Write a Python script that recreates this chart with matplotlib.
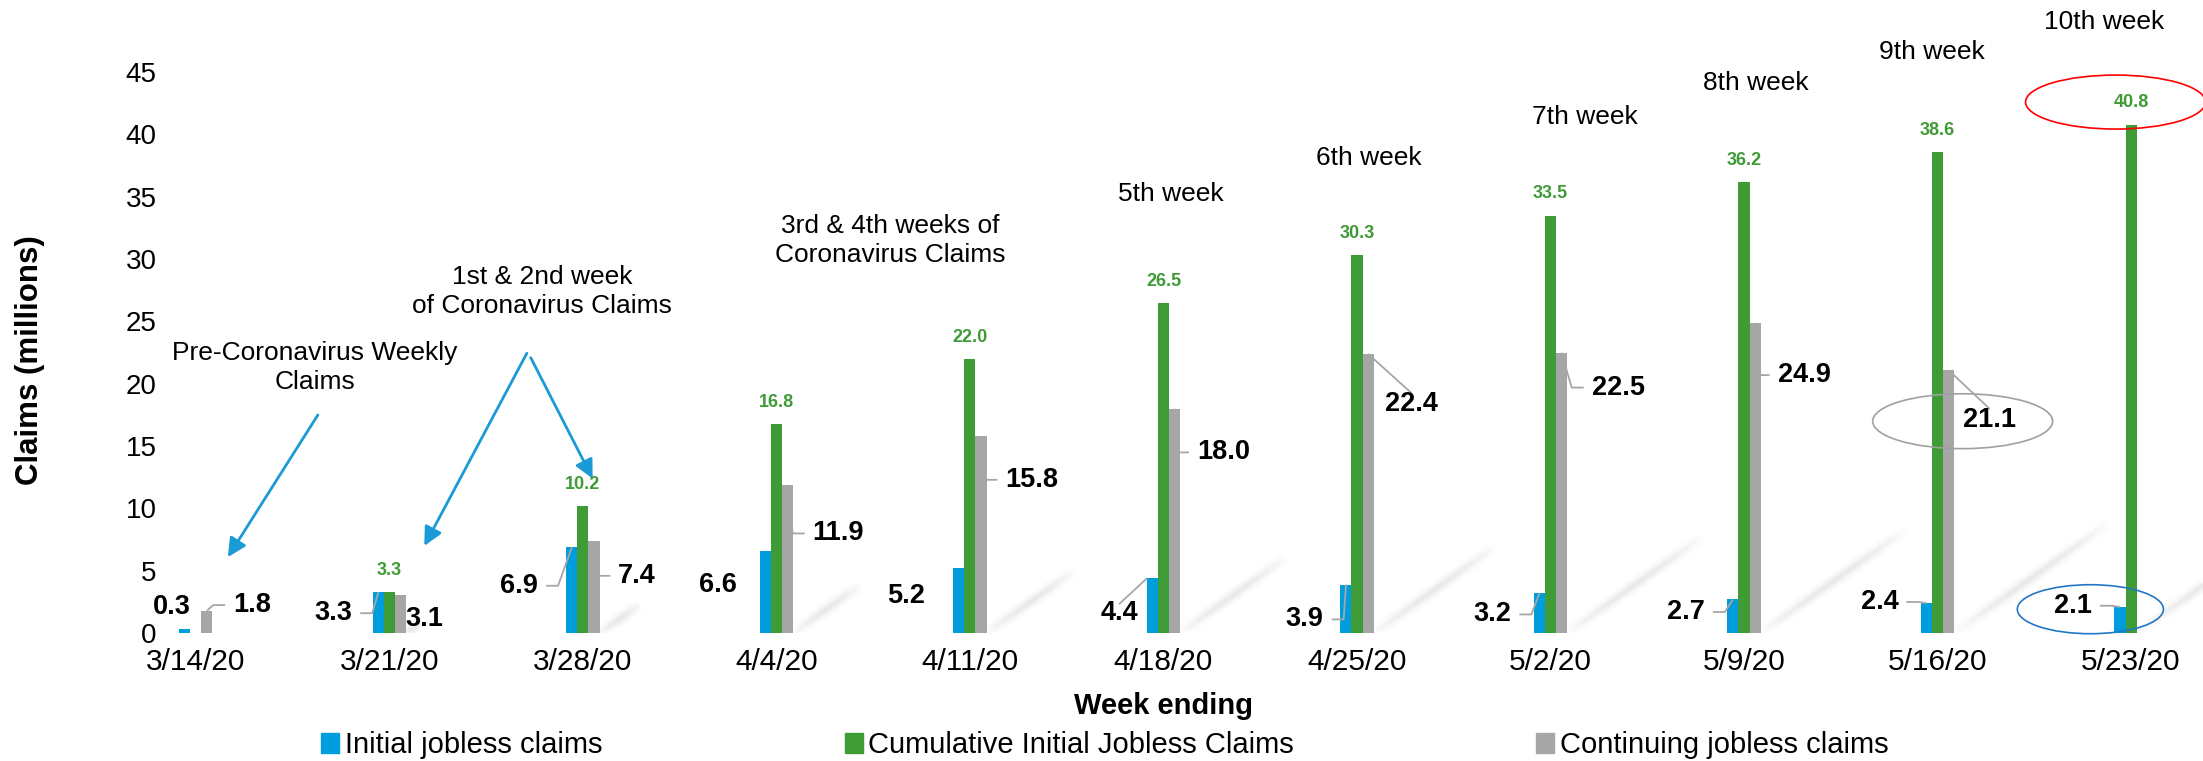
import numpy as np
import matplotlib
matplotlib.use('Agg')
import matplotlib.pyplot as plt
from matplotlib.patches import Ellipse, Patch
from matplotlib.transforms import blended_transform_factory

plt.rcParams['font.family'] = ['Liberation Sans', 'DejaVu Sans']

#%%
# data (millions)
weeks = ['3/14/20', '3/21/20', '3/28/20', '4/4/20', '4/11/20', '4/18/20',
         '4/25/20', '5/2/20', '5/9/20', '5/16/20', '5/23/20']
initial = [0.3, 3.3, 6.9, 6.6, 5.2, 4.4, 3.9, 3.2, 2.7, 2.4, 2.1]
cumulative = [np.nan, 3.3, 10.2, 16.8, 22.0, 26.5, 30.3, 33.5, 36.2, 38.6, 40.8]
continuing = [1.8, 3.1, 7.4, 11.9, 15.8, 18.0, 22.4, 22.5, 24.9, 21.1, np.nan]

series_names = ['Initial jobless claims', 'Cumulative Initial Jobless Claims',
                'Continuing jobless claims']

notes = ['Pre-Coronavirus Weekly\nClaims', '1st & 2nd week\nof Coronavirus Claims',
         '3rd & 4th weeks of\nCoronavirus Claims', '5th week', '6th week',
         '7th week', '8th week', '9th week', '10th week']

#%%
# positions of the hand placed labels (offset from group centre, y in data units)
note_xy = [(0.615, 21.3), (1.79, 27.4), (3.59, 31.5), (5.04, 35.2), (6.06, 38.1),
           (7.18, 41.4), (8.06, 44.1), (8.97, 46.6), (9.86, 49.0)]
blue_dx = [-0.124, -0.29, -0.33, -0.30, -0.33, -0.23, -0.27, -0.30, -0.30, -0.30, -0.30]
blue_y = [2.1, 1.6, 3.8, 3.85, 3.0, 1.6, 1.1, 1.5, 1.7, 2.5, 2.2]
blue_lead = ['', 'elbow', 'elbow', '', '', 'diag', 'elbow', 'elbow', 'elbow', 'elbow', 'elbow']
gray_dx = [0.29, 0.18, 0.28, 0.32, 0.32, 0.31, 0.28, 0.35, 0.31, 0.27, 0]
gray_y = [2.25, 1.1, 4.6, 8.0, 12.3, 14.5, 18.4, 19.7, 20.7, 17.1, 0]
gray_lead = ['elbow', '', 'elbow', 'elbow', 'elbow', 'elbow', 'diag', 'elbow', 'elbow', 'diag', '']

c_blue = '#009ddc'
c_green = '#3e9b35'
c_gray = '#a6a6a6'
c_arrow = '#1a9ad6'

#%%
fig = plt.figure(figsize=(22.03, 7.61), dpi=100)
ax = fig.add_axes([0.0799, 0.168, 0.9201, 0.7372])

x = np.arange(len(weeks))
w = 0.057
ax.bar(x - w, initial, w, color=c_blue, zorder=3)
ax.bar(x, cumulative, w, color=c_green, zorder=3)
ax.bar(x + w, continuing, w, color=c_gray, zorder=3)

ax.set_xlim(-0.103, 10.372)
ax.set_ylim(0, 45)
ax.set_yticks(range(0, 46, 5))
ax.set_xticks(x)
ax.set_xticklabels(weeks)
ax.tick_params(axis='y', length=0, pad=14, labelsize=20)
ax.tick_params(axis='x', length=0, pad=11, labelsize=21.5)
for s in ax.spines.values():
    s.set_visible(False)

# shadow streaks behind each group
for i in range(len(weeks)):
    g = cumulative[i]
    if np.isnan(g):
        continue
    x0 = i + 1.5 * w if not np.isnan(continuing[i]) else i + 0.5 * w
    x1 = x0 + g * 0.0207
    y1 = g * 0.2286
    n = 30
    for k in range(n):
        t0, t1 = k / n, (k + 1) / n
        a = np.sin(np.pi * (t0 + t1) / 2) ** 0.7
        for lw, al in [(10, 0.05), (6, 0.07), (3, 0.09)]:
            ax.plot([x0 + (x1 - x0) * t0, x0 + (x1 - x0) * t1], [y1 * t0, y1 * t1],
                    color='#9a9a9a', lw=lw, alpha=al * a, solid_capstyle='butt', zorder=1)

# value labels
blue_txt = []
gray_txt = []
for i in range(len(weeks)):
    t = ax.text(i + blue_dx[i], blue_y[i], f'{initial[i]:.1f}', ha='center', va='center',
                fontsize=19.5, fontweight='bold', zorder=5)
    blue_txt.append(t)
    if not np.isnan(cumulative[i]):
        ax.annotate(f'{cumulative[i]:.1f}', (i, cumulative[i]), xytext=(0, 15.5),
                    textcoords='offset points', ha='center', va='center',
                    fontsize=13, fontweight='bold', color=c_green, zorder=5)
    if not np.isnan(continuing[i]):
        t = ax.text(i + gray_dx[i], gray_y[i], f'{continuing[i]:.1f}', ha='center', va='center',
                    fontsize=19.5, fontweight='bold', zorder=5)
        gray_txt.append(t)
    else:
        gray_txt.append(None)

# notes and arrows
for s, (nx, ny) in zip(notes, note_xy):
    ax.text(nx, ny, s, ha='center', va='center', fontsize=19, linespacing=1.3)

arrows = [((0.63, 17.5), (0.165, 6.1)), ((1.71, 22.45), (1.18, 7.0)), ((1.73, 22.1), (2.05, 12.4))]
for start, end in arrows:
    ax.annotate('', xy=end, xytext=start,
                arrowprops=dict(arrowstyle='-|>', color=c_arrow, lw=2, mutation_scale=28,
                                shrinkA=0, shrinkB=0))

# ellipses
ax.add_patch(Ellipse((9.92, 42.6), 0.93, 4.33, fill=False, ec='#ff0000', lw=1.2, clip_on=False, zorder=6))
ax.add_patch(Ellipse((9.13, 17.0), 0.93, 4.4, fill=False, ec='#a0a0a0', lw=1.2, clip_on=False, zorder=6))
ax.add_patch(Ellipse((9.79, 1.92), 0.755, 3.93, fill=False, ec='#2277c4', lw=1.2, clip_on=False, zorder=6))

# axis titles
tr = blended_transform_factory(ax.transData, ax.transAxes)
ax.text(5, -0.130, 'Week ending', transform=tr, ha='center', va='center',
        fontsize=21, fontweight='bold')
fig.text(30 / 2203, 1 - 360 / 761, 'Claims (millions)', rotation=90, ha='center', va='center',
         fontsize=22.5, fontweight='bold')

handles = [Patch(color=c) for c in (c_blue, c_green, c_gray)]
fig.legend(handles, series_names, ncol=3, loc='center left', bbox_to_anchor=(321 / 2203, 0.021),
           frameon=False, fontsize=21, handlelength=0.62, handleheight=0.7,
           handletextpad=0.2, columnspacing=8.3, borderpad=0, borderaxespad=0)

#%%
# leader lines, drawn once text extents are known
fig.canvas.draw()
r = fig.canvas.get_renderer()
inv = ax.transData.inverted()


def lead(pts):
    d = inv.transform(np.array(pts))
    ax.plot(d[:, 0], d[:, 1], color=c_gray, lw=1.3, zorder=4, solid_capstyle='butt')


for i in range(len(weeks)):
    bb = blue_txt[i].get_window_extent(r)
    yc = (bb.y0 + bb.y1) / 2
    top = ax.transData.transform((i - w, initial[i]))
    if blue_lead[i] == 'elbow':
        lead([(bb.x1 + 8, yc), (bb.x1 + 20, yc), tuple(top)])
    elif blue_lead[i] == 'diag':
        corner = ax.transData.transform((i - 1.5 * w, initial[i]))
        lead([((bb.x0 + bb.x1) / 2, bb.y1 - 4), tuple(corner)])
    t = gray_txt[i]
    if t is None or gray_lead[i] == '':
        continue
    bb = t.get_window_extent(r)
    yc = (bb.y0 + bb.y1) / 2
    top = ax.transData.transform((i + w, continuing[i]))
    if gray_lead[i] == 'elbow':
        lead([tuple(top), (bb.x0 - 20, yc), (bb.x0 - 8, yc)])
    else:
        lead([tuple(top), ((bb.x0 + bb.x1) / 2, bb.y1 - 2)])

fig.savefig('out.png', dpi=100)
